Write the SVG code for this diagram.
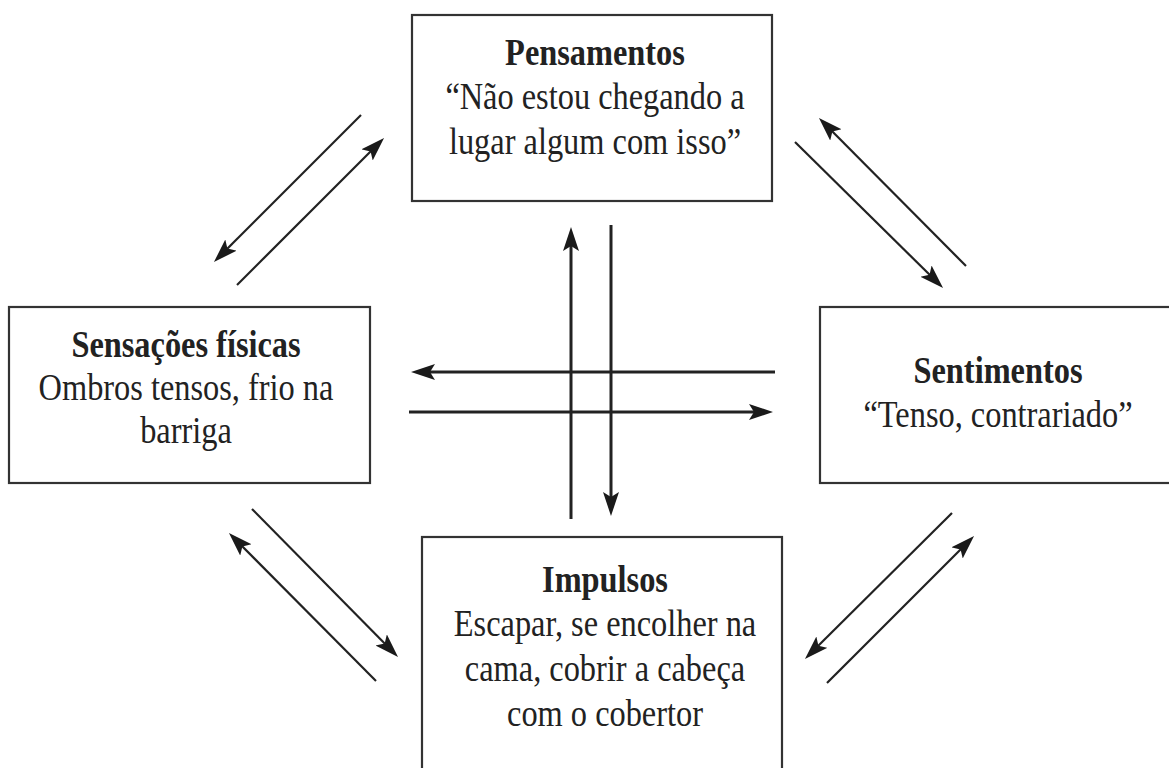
<svg xmlns="http://www.w3.org/2000/svg" width="1169" height="768" viewBox="0 0 1169 768">
<style>
.box{fill:#fff;stroke:#333;stroke-width:2.2}
.t{font-family:"Liberation Serif","Times New Roman",serif;font-size:37px;fill:#222;text-anchor:middle}
.b{font-weight:bold}
.d{stroke:#222;stroke-width:2.2;fill:none;marker-end:url(#ah)}
.s{stroke:#222;stroke-width:3;fill:none;marker-end:url(#ah)}
</style>
<defs>
<marker id="ah" markerUnits="userSpaceOnUse" markerWidth="26" markerHeight="18" refX="18" refY="8" orient="auto" viewBox="0 0 26 18">
<path d="M0,0 L24,8 L0,16 L5,8 z" fill="#1a1a1a"/>
</marker>
</defs>
<rect width="1169" height="768" fill="#fff"/>
<g id="pensamentos">
<rect class="box" x="412" y="15" width="360" height="186"/>
<g transform="translate(595 0) scale(0.875 1)">
<text class="t b" x="0" y="65">Pensamentos</text>
<text class="t" x="0" y="109">“Não estou chegando a</text>
<text class="t" x="0" y="154">lugar algum com isso”</text>
</g>
</g>
<g id="sensacoes">
<rect class="box" x="9" y="307" width="361" height="176"/>
<g transform="translate(186 0) scale(0.875 1)">
<text class="t b" x="0" y="357">Sensações físicas</text>
<text class="t" x="0" y="400">Ombros tensos, frio na</text>
<text class="t" x="0" y="443">barriga</text>
</g>
</g>
<g id="sentimentos">
<rect class="box" x="820" y="307" width="360" height="176"/>
<g transform="translate(998 0) scale(0.875 1)">
<text class="t b" x="0" y="383">Sentimentos</text>
<text class="t" x="0" y="427">“Tenso, contrariado”</text>
</g>
</g>
<g id="impulsos">
<rect class="box" x="422" y="537" width="360" height="245"/>
<g transform="translate(605 0) scale(0.875 1)">
<text class="t b" x="0" y="592">Impulsos</text>
<text class="t" x="0" y="636">Escapar, se encolher na</text>
<text class="t" x="0" y="681">cama, cobrir a cabeça</text>
<text class="t" x="0" y="726">com o cobertor</text>
</g>
</g>
<g id="connectors">
<line class="d" x1="361" y1="115" x2="218.2" y2="257.8"/>
<line class="d" x1="237" y1="285" x2="379.8" y2="142.2"/>
<line class="d" x1="795" y1="142" x2="938.8" y2="283.8"/>
<line class="d" x1="966" y1="266" x2="823.2" y2="122.2"/>
<line class="d" x1="252" y1="509" x2="393.8" y2="652.8"/>
<line class="d" x1="376" y1="681" x2="233.2" y2="537.2"/>
<line class="d" x1="952" y1="513" x2="809.2" y2="654.8"/>
<line class="d" x1="827" y1="683" x2="969.8" y2="540.2"/>
<line class="s" x1="571" y1="519" x2="571" y2="233"/>
<line class="s" x1="611" y1="225" x2="611" y2="510"/>
<line class="s" x1="775" y1="372" x2="417" y2="372"/>
<line class="s" x1="409" y1="412" x2="767" y2="412"/>
</g>
</svg>
